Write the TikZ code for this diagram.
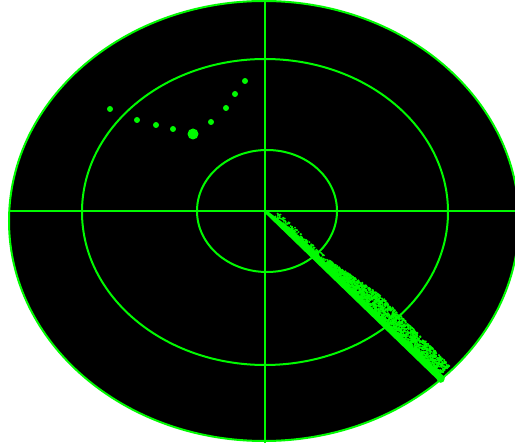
\documentclass[tikz,border=0pt]{standalone}
\usepackage{tikz}
\definecolor{radargreen}{RGB}{0,250,0}

\begin{document}
\begin{tikzpicture}[
  x=1pt,y=-1pt,
  ring/.style={draw=radargreen,line width=2pt},
  axis/.style={draw=radargreen,line width=2pt},
  blip/.style={fill=radargreen}
]
\useasboundingbox (0,0) rectangle (515,443);
\fill[white] (0,0) rectangle (515,443);
\clip (0,0) rectangle (515,443);

% screen and range rings
\fill[black] (264,221) ellipse [x radius=255,y radius=220];
\draw[ring] (264,221) ellipse [x radius=255,y radius=220];
\draw[ring] (265,212) ellipse [x radius=183,y radius=153];
\draw[ring] (267,211) ellipse [x radius=70,y radius=61];

% cross hairs
\draw[axis] (10,211) -- (520,211);
\draw[axis] (265,0) -- (265,443);

% target track
\foreach \px/\py in {110/109,137/120,156/125,173/129,211/122,226/108,235/94,245/81}
  \fill[blip] (\px,\py) circle [radius=3];
\fill[blip] (193,134) circle [radius=5.5];

% sweep beam
\begin{scope}[shift={(265,211)},rotate=-43.68]
  \fill[radargreen] (0pt,1.5pt) -- (30pt,5pt) -- (60pt,6pt) -- (90pt,4pt)
    -- (245pt,4pt) -- (245pt,-3pt) -- (0pt,-1.5pt) -- cycle;
  \fill[radargreen] (243pt,0pt) circle [radius=4pt];
  \pgfmathsetseed{7}
  \foreach \k in {1,...,1800}{
    \pgfmathsetmacro{\tt}{80+160*rnd}
    \pgfmathsetmacro{\ww}{(\tt<140) ? (5+10*(\tt-80)/60) : (15-3*(\tt-140)/100)}
    \pgfmathsetmacro{\ss}{3+\ww*(rnd^1.1)}
    \fill[radargreen] (\tt pt,\ss pt) rectangle ++(1.5pt,1.5pt);
  }
  \foreach \k in {1,...,200}{
    \pgfmathsetmacro{\tt}{10+70*rnd}
    \pgfmathsetmacro{\ss}{2+6*rnd}
    \fill[radargreen] (\tt pt,\ss pt) rectangle ++(1.4pt,1.4pt);
  }
\end{scope}
\end{tikzpicture}
\end{document}
